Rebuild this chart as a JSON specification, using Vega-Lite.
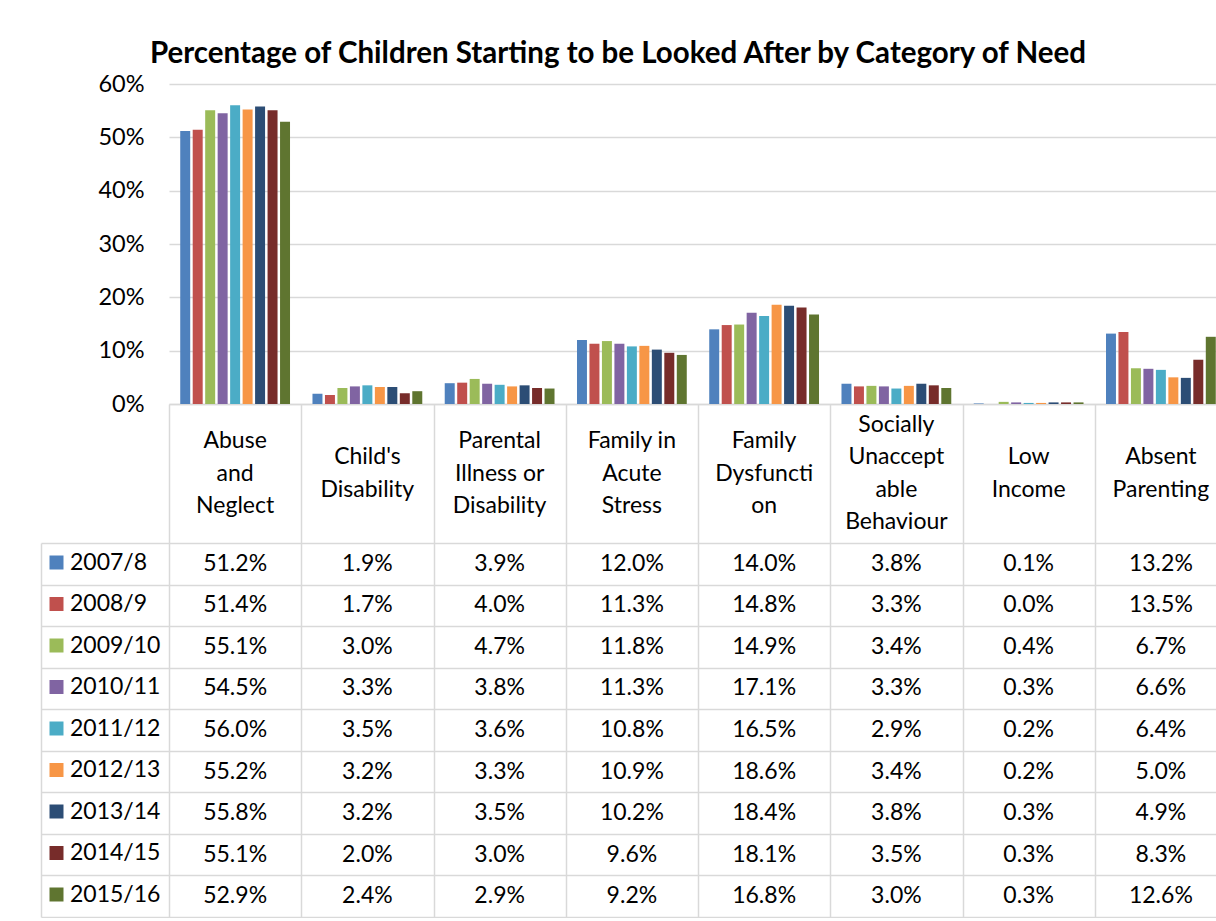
{
  "$schema": "https://vega.github.io/schema/vega-lite/v6.json",
  "background": "white",
  "padding": {"left": 40, "top": 38, "right": 0, "bottom": 0},
  "autosize": {"type": "pad"},
  "title": {"text": "Percentage of Children Starting to be Looked After by Category of Need", "font": "Lato", "fontSize": 29.5, "fontWeight": "bold", "color": "#000", "anchor": "middle", "dx": -16, "offset": 3},
  "datasets": {
    "main": [
      {"cat": "Abuse and Neglect", "year": "2007/8", "value": 0.512},
      {"cat": "Abuse and Neglect", "year": "2008/9", "value": 0.514},
      {"cat": "Abuse and Neglect", "year": "2009/10", "value": 0.551},
      {"cat": "Abuse and Neglect", "year": "2010/11", "value": 0.545},
      {"cat": "Abuse and Neglect", "year": "2011/12", "value": 0.560},
      {"cat": "Abuse and Neglect", "year": "2012/13", "value": 0.552},
      {"cat": "Abuse and Neglect", "year": "2013/14", "value": 0.558},
      {"cat": "Abuse and Neglect", "year": "2014/15", "value": 0.551},
      {"cat": "Abuse and Neglect", "year": "2015/16", "value": 0.529},
      {"cat": "Child's Disability", "year": "2007/8", "value": 0.019},
      {"cat": "Child's Disability", "year": "2008/9", "value": 0.017},
      {"cat": "Child's Disability", "year": "2009/10", "value": 0.030},
      {"cat": "Child's Disability", "year": "2010/11", "value": 0.033},
      {"cat": "Child's Disability", "year": "2011/12", "value": 0.035},
      {"cat": "Child's Disability", "year": "2012/13", "value": 0.032},
      {"cat": "Child's Disability", "year": "2013/14", "value": 0.032},
      {"cat": "Child's Disability", "year": "2014/15", "value": 0.020},
      {"cat": "Child's Disability", "year": "2015/16", "value": 0.024},
      {"cat": "Parental Illness or Disability", "year": "2007/8", "value": 0.039},
      {"cat": "Parental Illness or Disability", "year": "2008/9", "value": 0.040},
      {"cat": "Parental Illness or Disability", "year": "2009/10", "value": 0.047},
      {"cat": "Parental Illness or Disability", "year": "2010/11", "value": 0.038},
      {"cat": "Parental Illness or Disability", "year": "2011/12", "value": 0.036},
      {"cat": "Parental Illness or Disability", "year": "2012/13", "value": 0.033},
      {"cat": "Parental Illness or Disability", "year": "2013/14", "value": 0.035},
      {"cat": "Parental Illness or Disability", "year": "2014/15", "value": 0.030},
      {"cat": "Parental Illness or Disability", "year": "2015/16", "value": 0.029},
      {"cat": "Family in Acute Stress", "year": "2007/8", "value": 0.120},
      {"cat": "Family in Acute Stress", "year": "2008/9", "value": 0.113},
      {"cat": "Family in Acute Stress", "year": "2009/10", "value": 0.118},
      {"cat": "Family in Acute Stress", "year": "2010/11", "value": 0.113},
      {"cat": "Family in Acute Stress", "year": "2011/12", "value": 0.108},
      {"cat": "Family in Acute Stress", "year": "2012/13", "value": 0.109},
      {"cat": "Family in Acute Stress", "year": "2013/14", "value": 0.102},
      {"cat": "Family in Acute Stress", "year": "2014/15", "value": 0.096},
      {"cat": "Family in Acute Stress", "year": "2015/16", "value": 0.092},
      {"cat": "Family Dysfunction", "year": "2007/8", "value": 0.140},
      {"cat": "Family Dysfunction", "year": "2008/9", "value": 0.148},
      {"cat": "Family Dysfunction", "year": "2009/10", "value": 0.149},
      {"cat": "Family Dysfunction", "year": "2010/11", "value": 0.171},
      {"cat": "Family Dysfunction", "year": "2011/12", "value": 0.165},
      {"cat": "Family Dysfunction", "year": "2012/13", "value": 0.186},
      {"cat": "Family Dysfunction", "year": "2013/14", "value": 0.184},
      {"cat": "Family Dysfunction", "year": "2014/15", "value": 0.181},
      {"cat": "Family Dysfunction", "year": "2015/16", "value": 0.168},
      {"cat": "Socially Unacceptable Behaviour", "year": "2007/8", "value": 0.038},
      {"cat": "Socially Unacceptable Behaviour", "year": "2008/9", "value": 0.033},
      {"cat": "Socially Unacceptable Behaviour", "year": "2009/10", "value": 0.034},
      {"cat": "Socially Unacceptable Behaviour", "year": "2010/11", "value": 0.033},
      {"cat": "Socially Unacceptable Behaviour", "year": "2011/12", "value": 0.029},
      {"cat": "Socially Unacceptable Behaviour", "year": "2012/13", "value": 0.034},
      {"cat": "Socially Unacceptable Behaviour", "year": "2013/14", "value": 0.038},
      {"cat": "Socially Unacceptable Behaviour", "year": "2014/15", "value": 0.035},
      {"cat": "Socially Unacceptable Behaviour", "year": "2015/16", "value": 0.030},
      {"cat": "Low Income", "year": "2007/8", "value": 0.001},
      {"cat": "Low Income", "year": "2008/9", "value": 0.000},
      {"cat": "Low Income", "year": "2009/10", "value": 0.004},
      {"cat": "Low Income", "year": "2010/11", "value": 0.003},
      {"cat": "Low Income", "year": "2011/12", "value": 0.002},
      {"cat": "Low Income", "year": "2012/13", "value": 0.002},
      {"cat": "Low Income", "year": "2013/14", "value": 0.003},
      {"cat": "Low Income", "year": "2014/15", "value": 0.003},
      {"cat": "Low Income", "year": "2015/16", "value": 0.003},
      {"cat": "Absent Parenting", "year": "2007/8", "value": 0.132},
      {"cat": "Absent Parenting", "year": "2008/9", "value": 0.135},
      {"cat": "Absent Parenting", "year": "2009/10", "value": 0.067},
      {"cat": "Absent Parenting", "year": "2010/11", "value": 0.066},
      {"cat": "Absent Parenting", "year": "2011/12", "value": 0.064},
      {"cat": "Absent Parenting", "year": "2012/13", "value": 0.050},
      {"cat": "Absent Parenting", "year": "2013/14", "value": 0.049},
      {"cat": "Absent Parenting", "year": "2014/15", "value": 0.083},
      {"cat": "Absent Parenting", "year": "2015/16", "value": 0.126}
    ],
    "headers": [
      {"cat": "Abuse and Neglect", "label": "Abuse|and|Neglect"},
      {"cat": "Child's Disability", "label": "Child's|Disability"},
      {"cat": "Parental Illness or Disability", "label": "Parental|Illness or|Disability"},
      {"cat": "Family in Acute Stress", "label": "Family in|Acute|Stress"},
      {"cat": "Family Dysfunction", "label": "Family|Dysfuncti|on"},
      {"cat": "Socially Unacceptable Behaviour", "label": "Socially|Unaccept|able|Behaviour"},
      {"cat": "Low Income", "label": "Low|Income"},
      {"cat": "Absent Parenting", "label": "Absent|Parenting"}
    ]
  },
  "spacing": 0,
  "bounds": "flush",
  "vconcat": [
    {
      "width": 1058,
      "height": 320,
      "data": {"name": "main"},
      "mark": {"type": "bar"},
      "encoding": {
        "x": {"field": "cat", "type": "nominal", "sort": ["Abuse and Neglect", "Child's Disability", "Parental Illness or Disability", "Family in Acute Stress", "Family Dysfunction", "Socially Unacceptable Behaviour", "Low Income", "Absent Parenting"], "scale": {"paddingInner": 0, "paddingOuter": 0}, "axis": {"labels": false, "ticks": false, "title": null, "domainColor": "#d9d9d9", "domainWidth": 1.5}},
        "xOffset": {"field": "year", "type": "nominal", "sort": ["2007/8", "2008/9", "2009/10", "2010/11", "2011/12", "2012/13", "2013/14", "2014/15", "2015/16"], "scale": {"paddingInner": 0.2, "paddingOuter": 0.9}},
        "y": {"field": "value", "type": "quantitative", "scale": {"domain": [0, 0.6], "nice": false}, "axis": {"format": ".0%", "values": [0, 0.1, 0.2, 0.3, 0.4, 0.5, 0.6], "title": null, "domain": false, "ticks": false, "labelPadding": 25, "labelFontSize": 23.5, "labelFont": "Lato", "labelColor": "#000", "gridColor": "#d9d9d9", "gridWidth": 1.5}},
        "color": {"field": "year", "type": "nominal", "sort": ["2007/8", "2008/9", "2009/10", "2010/11", "2011/12", "2012/13", "2013/14", "2014/15", "2015/16"], "scale": {"domain": ["2007/8", "2008/9", "2009/10", "2010/11", "2011/12", "2012/13", "2013/14", "2014/15", "2015/16"], "range": ["#4F81BD", "#C0504D", "#9BBB59", "#8064A2", "#4BACC6", "#F79646", "#2C4D75", "#772C2A", "#5F7530"]},
          "legend": {"orient": "none", "legendX": -124, "legendY": 467, "title": null, "symbolType": "square", "symbolSize": 196, "symbolStrokeWidth": 0, "symbolOpacity": 1, "labelFontSize": 23, "labelFont": "Lato", "labelColor": "#000", "rowPadding": 17.5, "labelOffset": 2, "padding": 0}}
      }
    },
    {
      "width": 1058,
      "height": 139,
      "data": {"name": "headers"},
      "encoding": {
        "x": {"field": "cat", "type": "nominal", "sort": ["Abuse and Neglect", "Child's Disability", "Parental Illness or Disability", "Family in Acute Stress", "Family Dysfunction", "Socially Unacceptable Behaviour", "Low Income", "Absent Parenting"], "scale": {"paddingInner": 0, "paddingOuter": 0}, "axis": {"labels": false, "ticks": false, "domain": false, "title": null, "grid": true, "tickBand": "extent", "gridColor": "#d9d9d9", "gridWidth": 1.5}},
        "text": {"field": "label"}
      },
      "layer": [
        {"transform": [{"filter": "length(split(datum.label, '|')) == 2"}], "mark": {"type": "text", "lineBreak": "|", "lineHeight": 32.5, "fontSize": 23, "font": "Lato", "color": "#000", "baseline": "middle", "align": "center", "dy": -16.25}},
        {"transform": [{"filter": "length(split(datum.label, '|')) == 3"}], "mark": {"type": "text", "lineBreak": "|", "lineHeight": 32.5, "fontSize": 23, "font": "Lato", "color": "#000", "baseline": "middle", "align": "center", "dy": -32.5}},
        {"transform": [{"filter": "length(split(datum.label, '|')) == 4"}], "mark": {"type": "text", "lineBreak": "|", "lineHeight": 32.5, "fontSize": 23, "font": "Lato", "color": "#000", "baseline": "middle", "align": "center", "dy": -48.75}}
      ]
    },
    {
      "width": 1058,
      "height": 374,
      "data": {"name": "main"},
      "mark": {"type": "text", "fontSize": 23, "font": "Lato", "color": "#000", "baseline": "middle", "align": "center"},
      "encoding": {
        "x": {"field": "cat", "type": "nominal", "sort": ["Abuse and Neglect", "Child's Disability", "Parental Illness or Disability", "Family in Acute Stress", "Family Dysfunction", "Socially Unacceptable Behaviour", "Low Income", "Absent Parenting"], "scale": {"paddingInner": 0, "paddingOuter": 0}, "axis": {"labels": false, "ticks": false, "domain": false, "title": null, "grid": true, "tickBand": "extent", "gridColor": "#d9d9d9", "gridWidth": 1.5}},
        "y": {"field": "year", "type": "nominal", "sort": ["2007/8", "2008/9", "2009/10", "2010/11", "2011/12", "2012/13", "2013/14", "2014/15", "2015/16"], "scale": {"paddingInner": 0, "paddingOuter": 0}, "axis": {"labels": false, "title": null, "grid": false, "ticks": true, "tickBand": "extent", "tickSize": -1186, "offset": 128, "tickColor": "#d9d9d9", "tickWidth": 1.5, "domain": true, "domainColor": "#d9d9d9", "domainWidth": 1.5}},
        "text": {"field": "value", "type": "quantitative", "format": ".1%"}
      }
    }
  ],
  "config": {
    "view": {"stroke": null},
    "font": "Lato"
  }
}
